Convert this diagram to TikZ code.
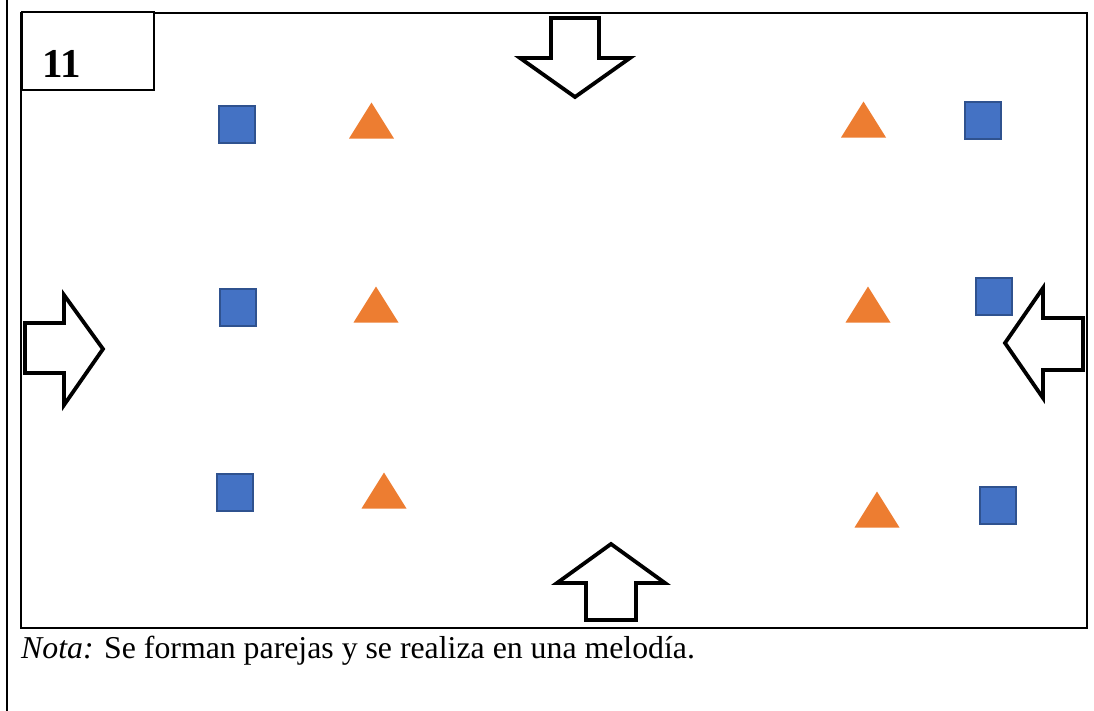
\documentclass[tikz,border=0pt]{standalone}
\usepackage{fontspec}
\setmainfont{Liberation Serif}
\usetikzlibrary{shapes.geometric}
\definecolor{sqblue}{HTML}{4472C4}
\definecolor{sqedge}{HTML}{2F528F}
\definecolor{triorange}{HTML}{ED7D31}
\begin{document}
\begin{tikzpicture}[x=1pt, y=-1pt]
\tikzstyle{sq}=[draw=sqedge, fill=sqblue, line width=2pt, minimum width=36pt, minimum height=37pt, inner sep=0pt]
\tikzstyle{tri}=[fill=triorange, isosceles triangle, isosceles triangle stretches, shape border rotate=90, minimum width=45pt, minimum height=36pt, inner sep=0pt, anchor=apex]
\tikzstyle{blk}=[draw, line width=3.8pt, fill=white, line join=miter]
\useasboundingbox (0,0) rectangle (1094,711);

% frame
\draw[line width=2.4pt] (7,0) -- (7,711);
\draw[line width=2.4pt] (21,13) rectangle (1087,628);
\node[draw, line width=2.4pt, fill=white, minimum width=132pt, minimum height=78pt, anchor=north west](numbox) at (21,11) {} ;
\node[anchor=base west, inner sep=0pt, font=\fontsize{41}{48}\selectfont\bfseries](num) at (42,78) {11} ;

% squares
\node[sq](sqtl) at (236.5, 124.5) {} ;
\node[sq](sqml) at (238, 307.5)   {} ;
\node[sq](sqbl) at (235, 492)     {} ;
\node[sq](sqtr) at (983, 121)     {} ;
\node[sq](sqmr) at (994, 296)     {} ;
\node[sq](sqbr) at (998, 505.5)   {} ;

% triangles
\node[tri](tritl) at (371.5, 102) {} ;
\node[tri](triml) at (376, 286)   {} ;
\node[tri](tribl) at (384, 472)   {} ;
\node[tri](tritr) at (863.5, 101) {} ;
\node[tri](trimr) at (868, 286)   {} ;
\node[tri](tribr) at (877, 491)   {} ;

% arrows
\draw[blk] (551,18) -- (599,18) -- (599,58) -- (630,58) -- (575,97) -- (520,58) -- (551,58) -- cycle ;
\draw[blk] (25,323) -- (64,323) -- (64,295) -- (103,349) -- (64,405) -- (64,373) -- (25,373) -- cycle ;
\draw[blk] (1083,318) -- (1043,318) -- (1043,288) -- (1005,343) -- (1043,398) -- (1043,370) -- (1083,370) -- cycle ;
\draw[blk] (586,620) -- (586,583) -- (557,583) -- (611,544) -- (665,583) -- (636,583) -- (636,620) -- cycle ;

% note
\node[anchor=base west, inner sep=0pt, font=\fontsize{31.8}{36}\selectfont](nota) at (21,658) {\textit{Nota:} Se forman parejas y se realiza en una melodía.} ;
\end{tikzpicture}
\end{document}
